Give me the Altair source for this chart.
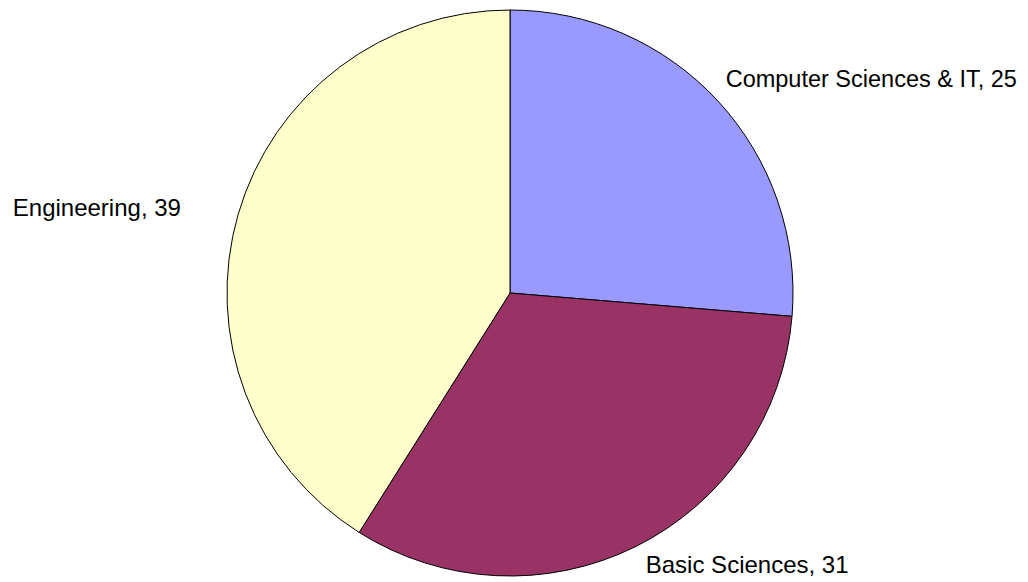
import altair as alt
import pandas as pd

categories = ["Computer Sciences & IT", "Basic Sciences", "Engineering"]
values = [25, 31, 39]
colors = ["#9999FF", "#993366", "#FFFFCC"]

df = pd.DataFrame({"category": categories, "value": values, "idx": list(range(len(categories)))})

CX, CY = 502, 285
R = 283
LR = 304

base = (
    alt.Chart(df)
    .transform_stack(stack="value", groupby=[], as_=["v0", "v1"], sort=[alt.SortField("idx", order="ascending")])
    .transform_joinaggregate(total="sum(value)")
    .transform_calculate(
        a0="datum.v0 / datum.total * 2 * PI",
        a1="datum.v1 / datum.total * 2 * PI",
        amid="(datum.v0 + datum.v1) / 2 / datum.total * 2 * PI",
        label="datum.category + ', ' + datum.value",
    )
)

pie = base.mark_arc(outerRadius=R, stroke="black", strokeWidth=1).encode(
    theta=alt.Theta("a0:Q", scale=None),
    theta2="a1:Q",
    color=alt.Color("category:N", scale=alt.Scale(domain=categories, range=colors), legend=None),
    x=alt.value(CX),
    y=alt.value(CY),
)

# label layout offsets (style, not data)
label_style = {
    "Computer Sciences & IT": dict(align="left", dx=-8, dy=-7, size=23.5),
    "Basic Sciences": dict(align="left", dx=0, dy=1, size=24),
    "Engineering": dict(align="right", dx=-37, dy=0, size=24),
}

layers = [pie]
for cat in categories:
    st = label_style[cat]
    layers.append(
        base.transform_filter(alt.datum.category == cat)
        .mark_text(
            radius=LR,
            align=st["align"],
            dx=st["dx"],
            dy=st["dy"],
            baseline="middle",
            fontSize=st["size"],
            font="Liberation Sans",
            color="black",
        )
        .encode(
            theta=alt.Theta("amid:Q", scale=None),
            text="label:N",
            x=alt.value(CX),
            y=alt.value(CY),
        )
    )

chart = (
    alt.layer(*layers)
    .properties(width=1012, height=570, autosize=alt.AutoSizeParams(type="none"), padding=0)
    .configure_view(stroke=None)
)

chart.save("out.html", embed_options={"renderer": "svg", "actions": False})
